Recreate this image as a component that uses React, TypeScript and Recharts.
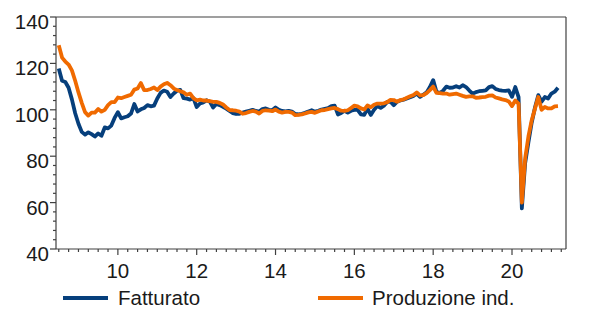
import { LineChart, Line, XAxis, YAxis, ReferenceLine } from 'recharts'

// monthly, Jul 2008 -> Mar 2021 (x in two-digit years)
const START = 8.5

const FATTURATO = [
  117.8, 112.5, 112, 109.5, 104.5, 98.5,
  94, 90.5, 89.3, 90.3, 89.5, 88.5, 89.8, 88.8, 92.4, 92, 93.2, 96.5,
  99, 96.3, 96.8, 97.2, 98.4, 102.5, 99.3, 100.2, 100.8, 102, 101.5, 101.8,
  104.9, 107.3, 108.3, 107.8, 105.5, 107, 108.2, 108.6, 105, 104.8, 104.4, 105,
  101.2, 102.7, 103.2, 104.1, 103.5, 101, 102.5, 102, 101.3, 100.5, 99.5, 98.6,
  98.2, 98.3, 98.8, 99.2, 99.6, 100, 99.5, 99.2, 100.3, 100.6, 100, 99.8,
  101, 100, 99.5, 99.3, 99.5, 99.2, 98.2, 98, 98.3, 98.7, 99.3, 99.8,
  99.2, 99.6, 100.1, 100.4, 100.7, 101.6, 101.8, 98, 98.6, 99.6, 98.8, 99.6,
  100, 100, 98, 97.8, 100.5, 97.8, 100, 101.6, 100.8, 101.8, 103.4, 103.5,
  102, 103.5, 104, 104.4, 104.9, 105.4, 106, 107, 105.6, 106.5, 107.5, 109.8,
  112.8, 107.8, 107.2, 108.2, 110, 109.5, 109.6, 110.2, 109.6, 110.6, 109.8, 108.3,
  107, 107.6, 108, 108.2, 108.4, 109.8, 110.2, 109, 108.5, 108.3, 108.2, 108.4,
  105.6, 109.8, 105.5, 57.5, 77, 86, 94.5, 101, 106.3, 103.5, 105.5, 104.9,
  107, 107.8, 109.5,
]

const PRODUZIONE = [
  127.8, 122.5, 120.8, 119.5, 117, 112.5,
  107.5, 103, 99, 97.5, 98.8, 98.8, 100.3, 99.2, 100, 102, 103.3, 103.3,
  105.3, 105, 105.5, 106, 106.5, 108.7, 109.2, 111.5, 108.5, 108.5, 109, 109.6,
  108.5, 110, 111, 111.6, 110.6, 109.2, 108.5, 108, 107.5, 106.5, 107, 105,
  104.1, 104.4, 104, 104, 103.7, 103.4, 103.4, 103, 102.3, 101, 99.9, 99.8,
  99.6, 99.2, 98.3, 98.6, 99.1, 99.5, 99.2, 98.4, 99.5, 99.8, 99.6, 99.4,
  100.1, 99.2, 98.8, 99.1, 99.1, 98.8, 97.7, 97.8, 98, 98.4, 98.9, 99.1,
  98.7, 99.3, 99.8, 99.9, 100.3, 100.6, 100.8, 100.3, 99.6, 99.5, 99.8, 100.8,
  101.8, 101.5, 100.6, 100.1, 101.9, 101.1, 102.2, 102.7, 102.7, 102.8, 103.3, 104.3,
  104.2, 103.5, 104.2, 104.5, 105.2, 105.8, 106.4, 107.5, 106.2, 106.3, 107.2, 108.5,
  110, 107.3, 107.2, 107, 107, 106.5, 106.8, 107, 106.5, 106, 105.6, 105.8,
  105.8, 105.2, 105.3, 105.5, 105.6, 106.1, 106.2, 105.3, 104.9, 104.5, 104.2, 103.6,
  101.6, 104, 102.7, 60, 79, 88.5, 95.5, 100.5, 105.5, 100, 101.2, 100.6,
  100.6, 101.5, 101.6,
]

const X_LABELS = [10, 12, 14, 16, 18, 20]
const Y_LABELS = [40, 60, 80, 100, 120, 140]

const BLUE = '#063f7c'
const ORANGE = '#f06a00'
const AXIS = '#404040'
const FONT = '"Liberation Sans", Arial, sans-serif'
const FONT_SIZE = 20.5

const data = FATTURATO.map((v, i) => ({
  x: START + i / 12,
  fatturato: v,
  produzione: PRODUZIONE[i],
}))

// quarterly minor ticks on x, every 4 points on y
const xTicks: number[] = []
for (let q = 34; q <= 85; q++) xTicks.push(q / 4)
const yTicks: number[] = []
for (let v = 40; v <= 140; v += 4) yTicks.push(v)

function XTick(props: any) {
  const { x, y, payload } = props
  const v = payload.value
  const major = X_LABELS.includes(v)
  return (
    <g>
      <line x1={x} x2={x} y1={y} y2={y + (major ? 6 : 3)} stroke={AXIS} strokeWidth={1.2} />
      {major && (
        <text x={x} y={y + 29} textAnchor="middle" fontSize={FONT_SIZE} fill="#1a1a1a" fontFamily={FONT}>
          {v}
        </text>
      )}
    </g>
  )
}

function YTick(props: any) {
  const { x, y, payload, side } = props
  const v = payload.value
  const major = Y_LABELS.includes(v)
  const dir = side === 'left' ? -1 : 1
  const len = major ? 6 : 3
  return (
    <g>
      <line x1={x} x2={x + dir * len} y1={y} y2={y} stroke={AXIS} strokeWidth={1.2} />
      {major && (
        <text
          x={side === 'left' ? x - 7 : x + 15}
          y={y + 12}
          textAnchor={side === 'left' ? 'end' : 'start'}
          fontSize={FONT_SIZE}
          fill="#1a1a1a"
          fontFamily={FONT}
        >
          {v}
        </text>
      )}
    </g>
  )
}

export default function App() {
  return (
    <div style={{ position: 'absolute', left: 0, top: 0, width: 616, height: 309, background: '#fff' }}>
      <LineChart width={616} height={309} data={data} margin={{ top: 17, right: 0, bottom: 0, left: 0 }}>
        <XAxis
          dataKey="x"
          type="number"
          domain={[8.43, 21.37]}
          allowDataOverflow
          ticks={xTicks}
          interval={0}
          tickSize={0}
          tickMargin={0}
          tickLine={false}
          height={60}
          axisLine={{ stroke: AXIS, strokeWidth: 1.2 }}
          tick={(p: any) => <XTick {...p} />}
        />
        <YAxis
          yAxisId="l"
          orientation="left"
          domain={[40, 140]}
          ticks={yTicks}
          interval={0}
          width={56}
          tickSize={0}
          tickMargin={0}
          tickLine={false}
          axisLine={{ stroke: AXIS, strokeWidth: 1.2 }}
          tick={(p: any) => <YTick {...p} side="left" />}
        />
        <YAxis
          yAxisId="r"
          orientation="right"
          domain={[40, 140]}
          ticks={yTicks}
          interval={0}
          width={50}
          tickSize={0}
          tickMargin={0}
          tickLine={false}
          axisLine={{ stroke: AXIS, strokeWidth: 1.2 }}
          tick={(p: any) => <YTick {...p} side="right" />}
        />
        <ReferenceLine yAxisId="l" y={140} stroke={AXIS} strokeWidth={1.2} />
        <Line
          yAxisId="l"
          dataKey="fatturato"
          stroke={BLUE}
          strokeWidth={3.8}
          dot={false}
          isAnimationActive={false}
          strokeLinejoin="round"
        />
        <Line
          yAxisId="l"
          dataKey="produzione"
          stroke={ORANGE}
          strokeWidth={3.8}
          dot={false}
          isAnimationActive={false}
          strokeLinejoin="round"
        />
      </LineChart>

      {/* legend */}
      <div style={{ position: 'absolute', left: 63, top: 287, fontFamily: FONT, fontSize: FONT_SIZE, color: '#1a1a1a', display: 'flex', alignItems: 'center', height: 22 }}>
        <span style={{ width: 45, height: 4, background: BLUE, marginRight: 10 }} />
        <span>Fatturato</span>
      </div>
      <div style={{ position: 'absolute', left: 318, top: 287, fontFamily: FONT, fontSize: FONT_SIZE, color: '#1a1a1a', display: 'flex', alignItems: 'center', height: 22 }}>
        <span style={{ width: 45, height: 4, background: ORANGE, marginRight: 9 }} />
        <span>Produzione ind.</span>
      </div>
    </div>
  )
}
